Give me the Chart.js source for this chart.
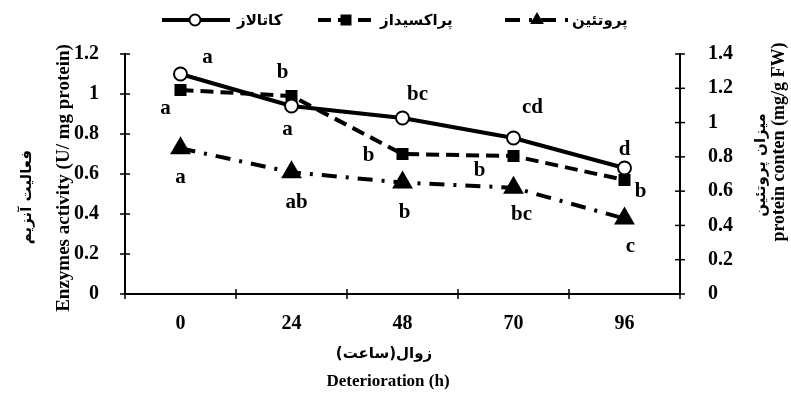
<!DOCTYPE html>
<html><head><meta charset="utf-8">
<script src="https://cdn.jsdelivr.net/npm/chart.js@4/dist/chart.umd.min.js"></script>
<style>html,body{margin:0;padding:0;background:#fff}#wrap{width:791px;height:409px;position:relative}</style>
</head><body><div id="wrap"><canvas id="c"></canvas></div>
<script>
// ---- data ----
const categories = ['0', '24', '48', '70', '96'];
const catalase = [1.10, 0.94, 0.88, 0.78, 0.63];
const peroxidase = [1.02, 0.99, 0.70, 0.69, 0.57];
const protein = [0.85, 0.71, 0.65, 0.62, 0.44];
const catalaseLetters = ['a', 'a', 'bc', 'cd', 'd'];
const peroxidaseLetters = ['a', 'b', 'b', 'b', 'b'];
const proteinLetters = ['a', 'ab', 'b', 'bc', 'c'];
const leftTickLabels = ['0', '0.2', '0.4', '0.6', '0.8', '1', '1.2'];
const rightTickLabels = ['0', '0.2', '0.4', '0.6', '0.8', '1', '1.2', '1.4'];
const seriesNames = ['كاتالاز', 'پراکسیداز', 'پروتئین'];
const leftTitleFa = 'فعالیت آنزیم';
const leftTitleEn = 'Enzymes activity (U/ mg protein)';
const rightTitleFa = 'میزان پروتئین';
const rightTitleEn = 'protein conten (mg/g FW)';
const xTitleFa = 'زوال(ساعت)';
const xTitleEn = 'Deterioration (h)';

// ---- styles ----
const SERIF = "'Liberation Serif','Times New Roman',serif";
const FAFONT = "'DejaVu Sans',sans-serif";
const letterOffsets = [
  [[27, -16], [-4, 24], [15, -23], [19, -30], [0, -18]],
  [[-15, 19], [-9, -23], [-34, 2], [-34, 15], [16, 12]],
  [[0, 29], [5, 30], [2, 30], [8, 27], [6, 28]]
];
const letterSets = [catalaseLetters, peroxidaseLetters, proteinLetters];
const dashes = [[], [13, 7], [15, 9, 3, 9]];

function drawMarker(ctx, kind, x, y) {
  ctx.save();
  ctx.setLineDash([]);
  ctx.fillStyle = '#000'; ctx.strokeStyle = '#000';
  if (kind === 0) {
    ctx.beginPath(); ctx.arc(x, y, 5.5, 0, Math.PI * 2);
    ctx.fillStyle = '#fff'; ctx.fill(); ctx.lineWidth = 2; ctx.stroke();
  } else if (kind === 1) {
    ctx.fillRect(x - 5.5, y - 5.5, 11, 11);
  } else {
    const r = 8;
    ctx.beginPath();
    ctx.moveTo(x, y - r);
    ctx.lineTo(x + r * 0.866, y + r / 2);
    ctx.lineTo(x - r * 0.866, y + r / 2);
    ctx.closePath(); ctx.fill();
  }
  ctx.restore();
}

const decor = {
  id: 'decor',
  afterDraw(chart) {
    const ctx = chart.ctx;
    const xs = chart.scales.x, yl = chart.scales.y, yr = chart.scales.y1;
    ctx.save();
    ctx.strokeStyle = '#000'; ctx.lineWidth = 1.5; ctx.setLineDash([]);
    const ln = (a, b, c, d) => { ctx.beginPath(); ctx.moveTo(a, b); ctx.lineTo(c, d); ctx.stroke(); };
    yl.ticks.forEach((t, i) => { const p = yl.getPixelForTick(i); ln(yl.right - 5, p, yl.right + 5, p); });
    yr.ticks.forEach((t, i) => { const p = yr.getPixelForTick(i); ln(yr.left - 5, p, yr.left + 5, p); });
    const w = xs.width / categories.length;
    for (let i = 0; i <= categories.length; i++) { const p = xs.left + i * w; ln(p, xs.top - 5, p, xs.top + 5); }

    // significance letters
    ctx.fillStyle = '#000';
    ctx.font = 'bold 21px ' + SERIF;
    ctx.textAlign = 'center'; ctx.textBaseline = 'middle';
    letterSets.forEach((set, di) => {
      const meta = chart.getDatasetMeta(di);
      set.forEach((s, j) => {
        const el = meta.data[j];
        ctx.fillText(s, el.x + letterOffsets[di][j][0], el.y + letterOffsets[di][j][1]);
      });
    });

    // axis titles
    const rot = (txt, font, x, y) => {
      ctx.save(); ctx.translate(x, y); ctx.rotate(-Math.PI / 2);
      ctx.font = font; ctx.fillText(txt, 0, 0); ctx.restore();
    };
    rot(leftTitleFa, 'bold 15px ' + FAFONT, 27, 197);
    rot(leftTitleEn, 'bold 19px ' + SERIF, 64, 178);
    rot(rightTitleFa, 'bold 15px ' + FAFONT, 761, 165);
    rot(rightTitleEn, 'bold 18px ' + SERIF, 779, 142);
    ctx.font = 'bold 15px ' + FAFONT; ctx.fillText(xTitleFa, 384, 354);
    ctx.font = 'bold 17px ' + SERIF; ctx.fillText(xTitleEn, 388, 382);

    // legend
    const legend = [
      { x0: 162, x1: 230, mx: 195, tx: 237 },
      { x0: 318, x1: 377, mx: 346, tx: 380 },
      { x0: 505, x1: 568, mx: 537, tx: 572 }
    ];
    const ly = 20;
    legend.forEach((L, i) => {
      ctx.save();
      ctx.lineWidth = 4; ctx.setLineDash(dashes[i]);
      ctx.beginPath(); ctx.moveTo(L.x0, ly); ctx.lineTo(L.x1, ly); ctx.stroke();
      ctx.restore();
      drawMarker(ctx, i, L.mx, ly);
      ctx.font = 'bold 15px ' + FAFONT; ctx.textAlign = 'left';
      ctx.fillText(seriesNames[i], L.tx, ly + 1);
    });
    ctx.restore();
  }
};

new Chart(document.getElementById('c'), {
  type: 'line',
  data: {
    labels: categories,
    datasets: [
      { label: seriesNames[0], data: catalase, yAxisID: 'y', borderColor: '#000', borderWidth: 4,
        pointStyle: 'circle', pointRadius: 6.5, pointBackgroundColor: '#fff', pointBorderColor: '#000', pointBorderWidth: 2 },
      { label: seriesNames[1], data: peroxidase, yAxisID: 'y', borderColor: '#000', borderWidth: 4, borderDash: dashes[1],
        pointStyle: 'rect', pointRadius: 8.5, pointBackgroundColor: '#000', pointBorderColor: '#000', pointBorderWidth: 0 },
      { label: seriesNames[2], data: protein, yAxisID: 'y1', borderColor: '#000', borderWidth: 4, borderDash: dashes[2],
        pointStyle: 'triangle', pointRadius: 12, pointBackgroundColor: '#000', pointBorderColor: '#000', pointBorderWidth: 0 }
    ]
  },
  options: {
    responsive: true, maintainAspectRatio: false, animation: false,
    layout: { padding: { top: 54, left: 0, right: 0, bottom: 0 } },
    plugins: { legend: { display: false }, tooltip: { enabled: false } },
    scales: {
      x: {
        offset: true,
        grid: { display: false },
        border: { display: true, color: '#000', width: 2 },
        ticks: { color: '#000', font: { family: SERIF, size: 20, weight: 'bold' }, padding: 10, maxRotation: 0 },
        afterFit: s => { s.height = 115; }
      },
      y: {
        position: 'left', min: 0, max: 1.2,
        grid: { display: false },
        border: { display: true, color: '#000', width: 2 },
        ticks: { stepSize: 0.2, color: '#000', font: { family: SERIF, size: 20, weight: 'bold' }, padding: 18,
          callback: (v, i) => leftTickLabels[i] },
        afterFit: s => { s.width = 125; }
      },
      y1: {
        position: 'right', min: 0, max: 1.4,
        grid: { display: false },
        border: { display: true, color: '#000', width: 2 },
        ticks: { stepSize: 0.2, color: '#000', font: { family: SERIF, size: 20, weight: 'bold' }, padding: 20,
          callback: (v, i) => rightTickLabels[i] },
        afterFit: s => { s.width = 111; }
      }
    }
  },
  plugins: [decor]
});
</script></body></html>
